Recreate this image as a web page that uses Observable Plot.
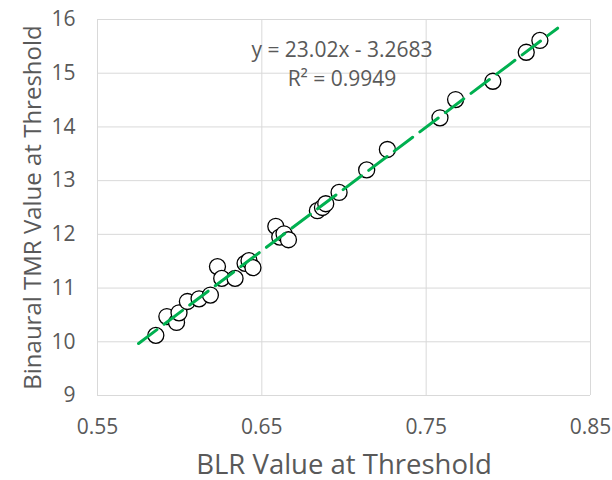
<!DOCTYPE html>
<html><head><meta charset="utf-8">
<script src="https://cdn.jsdelivr.net/npm/d3@7"></script>
<script src="https://cdn.jsdelivr.net/npm/@observablehq/plot@0.6"></script>
<style>body{margin:0;background:#fff}</style>
</head><body><div id="chart"></div>
<script>
// BLR value at threshold (x) and binaural TMR value at threshold (y)
const blr = [0.5855, 0.5922, 0.5981, 0.5996, 0.6047, 0.6118, 0.6187, 0.6230, 0.6256, 0.6337,
             0.6398, 0.6422, 0.6446, 0.6585, 0.6609, 0.6635, 0.6662, 0.6838, 0.6869, 0.6889,
             0.6970, 0.7138, 0.7264, 0.7584, 0.7679, 0.7906, 0.8109, 0.8192];
const tmr = [10.12, 10.47, 10.36, 10.54, 10.75, 10.80, 10.87, 11.40, 11.18, 11.18,
             11.46, 11.51, 11.38, 12.15, 11.95, 12.01, 11.90, 12.44, 12.50, 12.57,
             12.78, 13.20, 13.58, 14.17, 14.51, 14.85, 15.39, 15.61];
const xTicks = [0.55, 0.65, 0.75, 0.85];
const yTicks = [9, 10, 11, 12, 13, 14, 15, 16];
const trendSlope = 23.02;
const trendIntercept = -3.2683;
const trendX = [0.575, 0.83];
const equationLines = ["y = 23.02x - 3.2683", "R² = 0.9949"];
const xTitle = "BLR Value at Threshold";
const yTitle = "Binaural TMR Value at Threshold";

const points = blr.map((x, i) => ({x, y: tmr[i]}));
const trend = trendX.map(x => ({x, y: trendSlope * x + trendIntercept}));

const chart = Plot.plot({
  width: 612, height: 480,
  marginLeft: 97, marginRight: 22, marginTop: 19, marginBottom: 85,
  style: {fontFamily: "'Open Sans', sans-serif", background: "#fff", overflow: "visible"},
  x: {domain: [0.55, 0.85]},
  y: {domain: [9, 16]},
  marks: [
    Plot.gridX(xTicks, {stroke: "#d9d9d9", strokeOpacity: 1, strokeWidth: 1}),
    Plot.gridY(yTicks, {stroke: "#d9d9d9", strokeOpacity: 1, strokeWidth: 1}),
    Plot.axisX(xTicks, {tickSize: 0, tickPadding: 24, fontSize: 21, fill: "#595959",
      tickFormat: d => d.toFixed(2), label: null}),
    Plot.axisY(yTicks, {tickSize: 0, tickPadding: 22, fontSize: 21, fill: "#595959",
      tickFormat: d => String(d), label: null}),
    Plot.dot(points, {x: "x", y: "y", r: 8, stroke: "#000", strokeWidth: 1.3, fill: "#fff"}),
    Plot.line(trend, {x: "x", y: "y", stroke: "#00b050", strokeWidth: 3, strokeDasharray: "23,9"}),
    Plot.text([equationLines.join("\n")], {frameAnchor: "top", lineAnchor: "bottom", lineHeight: 1.35,
      dx: -2, dy: 66, fontSize: 21, fill: "#595959"}),
    Plot.text([xTitle], {frameAnchor: "bottom", lineAnchor: "bottom", dy: 78, fontSize: 27.5, fill: "#595959"}),
    Plot.text([yTitle], {frameAnchor: "left", textAnchor: "middle", lineAnchor: "bottom", rotate: -90,
      dx: -57, fontSize: 24, fill: "#595959"})
  ]
});
document.getElementById("chart").appendChild(chart);
</script>
</body></html>
